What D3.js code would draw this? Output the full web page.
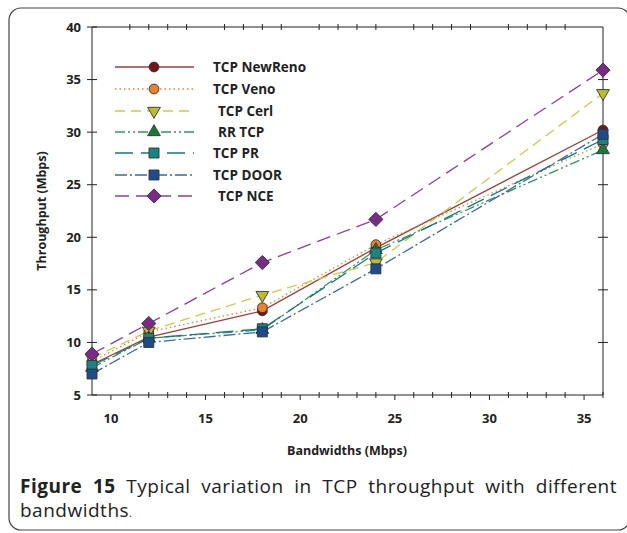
<!DOCTYPE html>
<html lang="en">
<head>
    <meta charset="UTF-8">
    <script src="https://cdn.jsdelivr.net/npm/d3@7"></script>
    <title>TCP throughput vs bandwidth</title>
    <style>
        body { margin: 0; background: white; }
        text { font-family: "Open Sans", sans-serif; }
    </style>
</head>
<body>
    <div class="fig"></div>
    <script>
        // Data
        const bandwidths = [9, 12, 18, 24, 36];
        const newReno = [7.9, 10.5, 13.0, 19.0, 30.2];
        const veno = [8.2, 11.0, 13.3, 19.3, 28.9];
        const cerl = [8.5, 11.1, 14.5, 17.6, 33.7];
        const rrTcp = [7.6, 10.4, 11.2, 18.8, 28.3];
        const pr = [7.8, 10.4, 11.3, 18.5, 29.3];
        const door = [7.0, 10.0, 11.0, 17.0, 29.8];
        const nce = [8.9, 11.8, 17.6, 21.7, 35.9];

        const seriesNames = ["TCP NewReno", "TCP Veno", "TCP Cerl", "RR TCP", "TCP PR", "TCP DOOR", "TCP NCE"];
        const seriesValues = [newReno, veno, cerl, rrTcp, pr, door, nce];

        const xTicks = [10, 15, 20, 25, 30, 35];
        const yTicks = [5, 10, 15, 20, 25, 30, 35, 40];

        // styling per series
        const styles = [
            { line: "#a33a3a", fill: "#7a1418", dash: null, shape: "circle", size: 75, tx: 0 },
            { line: "#ef8030", fill: "#f0802c", dash: "1.5,3", shape: "circle", size: 75, tx: 0 },
            { line: "#cccc3c", fill: "#bdbd2a", dash: "10,6", shape: "tri-down", size: 70, tx: 5 },
            { line: "#2a9a5a", fill: "#167a38", dash: "10,3,2,3,2,3", shape: "tri-up", size: 70, tx: 5 },
            { line: "#157a7a", fill: "#178585", dash: "18,8", shape: "square", size: 100, tx: 0 },
            { line: "#3c66a8", fill: "#1e4b8c", dash: "12,3,2,3", shape: "square", size: 100, tx: 0 },
            { line: "#8e3c9e", fill: "#7b2a8a", dash: "14,7", shape: "diamond", size: 100, tx: 5 }
        ];

        const width = 627, height = 533;
        const svg = d3.select(".fig").append("svg")
            .attr("width", width)
            .attr("height", height);

        // outer rounded frame
        svg.append("rect")
            .attr("x", 9).attr("y", 8)
            .attr("width", 621).attr("height", 522)
            .attr("rx", 12)
            .attr("fill", "none")
            .attr("stroke", "#444")
            .attr("stroke-width", 1.2);

        const x = d3.scaleLinear().domain([9, 36]).range([92, 603]);
        const y = d3.scaleLinear().domain([5, 40]).range([395, 27]);

        const axisColor = "#222";
        const g = svg.append("g").attr("stroke", axisColor).attr("stroke-width", 1);

        // plot box
        g.append("line").attr("x1", x(9)).attr("x2", x(36)).attr("y1", y(5)).attr("y2", y(5));
        g.append("line").attr("x1", x(9)).attr("x2", x(36)).attr("y1", y(40)).attr("y2", y(40));
        g.append("line").attr("x1", x(9)).attr("x2", x(9)).attr("y1", y(5)).attr("y2", y(40));
        g.append("line").attr("x1", x(36)).attr("x2", x(36)).attr("y1", y(5)).attr("y2", y(40));

        // x ticks: majors go down, minors cross the line
        const xMinor = d3.range(10, 37).filter(v => v % 5 !== 0);
        g.selectAll(".xmaj").data(xTicks).enter().append("line")
            .attr("x1", d => x(d)).attr("x2", d => x(d))
            .attr("y1", y(5)).attr("y2", y(5) + 5);
        g.selectAll(".xmin").data(xMinor).enter().append("line")
            .attr("x1", d => x(d)).attr("x2", d => x(d))
            .attr("y1", y(5) - 3).attr("y2", y(5) + 3);
        g.selectAll(".xtop").data(xMinor.filter(v => v < 36)).enter().append("line")
            .attr("x1", d => x(d)).attr("x2", d => x(d))
            .attr("y1", y(40) - 3).attr("y2", y(40) + 3);

        // y ticks cross both side axes
        g.selectAll(".yl").data(yTicks).enter().append("line")
            .attr("x1", x(9) - 5).attr("x2", x(9) + 5)
            .attr("y1", d => y(d)).attr("y2", d => y(d));
        g.selectAll(".yr").data(yTicks.filter(v => v > 5 && v < 40)).enter().append("line")
            .attr("x1", x(36) - 5).attr("x2", x(36) + 5)
            .attr("y1", d => y(d)).attr("y2", d => y(d));

        // tick labels
        svg.selectAll(".xl").data(xTicks).enter().append("text")
            .attr("x", d => x(d)).attr("y", 423)
            .attr("text-anchor", "middle")
            .attr("font-size", 13).attr("font-weight", "bold").attr("fill", "#222")
            .text(d => d);
        svg.selectAll(".ylab").data(yTicks).enter().append("text")
            .attr("x", 81).attr("y", d => y(d) + 4.5)
            .attr("text-anchor", "end")
            .attr("font-size", 13).attr("font-weight", "bold").attr("fill", "#222")
            .text(d => d);

        // axis titles
        svg.append("text")
            .attr("transform", "translate(46,211) rotate(-90)")
            .attr("text-anchor", "middle")
            .attr("font-size", 12.5).attr("font-weight", "bold").attr("fill", "#222")
            .text("Throughput (Mbps)");
        svg.append("text")
            .attr("x", 347).attr("y", 455)
            .attr("text-anchor", "middle")
            .attr("font-size", 12.5).attr("font-weight", "bold").attr("fill", "#222")
            .text("Bandwidths (Mbps)");

        const symbolPath = (shape, size) => {
            const types = {
                "circle": d3.symbolCircle, "tri-up": d3.symbolTriangle, "tri-down": d3.symbolTriangle,
                "square": d3.symbolSquare, "diamond": d3.symbolSquare
            };
            return d3.symbol().type(types[shape]).size(size)();
        };
        const symbolRot = shape => shape === "tri-down" ? " rotate(180)" : shape === "diamond" ? " rotate(45)" : "";

        // series lines
        const line = d3.line().x((d, i) => x(bandwidths[i])).y(d => y(d));
        seriesValues.forEach((vals, k) => {
            const s = styles[k];
            svg.append("path")
                .attr("d", line(vals))
                .attr("fill", "none")
                .attr("stroke", s.line)
                .attr("stroke-width", 1.3)
                .attr("stroke-dasharray", s.dash);
        });

        // markers drawn after all lines
        seriesValues.forEach((vals, k) => {
            const s = styles[k];
            svg.selectAll(null).data(vals).enter().append("path")
                .attr("d", symbolPath(s.shape, s.size))
                .attr("transform", (d, i) => `translate(${x(bandwidths[i])},${y(d)})${symbolRot(s.shape)}`)
                .attr("fill", s.fill)
                .attr("stroke", "#333")
                .attr("stroke-width", 0.9);
        });

        // legend
        const legendY = [67, 89, 111, 132, 153, 175, 196];
        const legend = svg.append("g");
        seriesNames.forEach((name, k) => {
            const s = styles[k];
            const ly = legendY[k];
            legend.append("line")
                .attr("x1", 115).attr("x2", 194)
                .attr("y1", ly).attr("y2", ly)
                .attr("stroke", s.line)
                .attr("stroke-width", 1.3)
                .attr("stroke-dasharray", s.dash);
            legend.append("path")
                .attr("d", symbolPath(s.shape, s.size))
                .attr("transform", `translate(154,${ly})${symbolRot(s.shape)}`)
                .attr("fill", s.fill)
                .attr("stroke", "#333")
                .attr("stroke-width", 0.9);
            legend.append("text")
                .attr("x", 213 + s.tx).attr("y", ly + 4.5)
                .attr("font-size", 13.5).attr("font-weight", "bold").attr("fill", "#222")
                .text(name);
        });

        // caption, first line justified
        const capSize = 19, capSpacing = 0.5;
        const cap1 = svg.append("text")
            .attr("x", 20).attr("y", 493)
            .attr("font-size", capSize).attr("letter-spacing", capSpacing).attr("fill", "#222");
        cap1.append("tspan").attr("font-weight", "bold").text("Figure 15");
        cap1.append("tspan").text(" Typical variation in TCP throughput with different");
        const textLen = cap1.node().getComputedTextLength();
        const spaces = 8;
        cap1.attr("word-spacing", Math.max(0, (617 - 20 - textLen) / spaces));

        const cap2 = svg.append("text")
            .attr("x", 20).attr("y", 517)
            .attr("font-size", capSize).attr("letter-spacing", capSpacing).attr("fill", "#222");
        cap2.append("tspan").text("bandwidths");
        cap2.append("tspan").attr("font-size", 11).text(".");
    </script>
</body>
</html>
